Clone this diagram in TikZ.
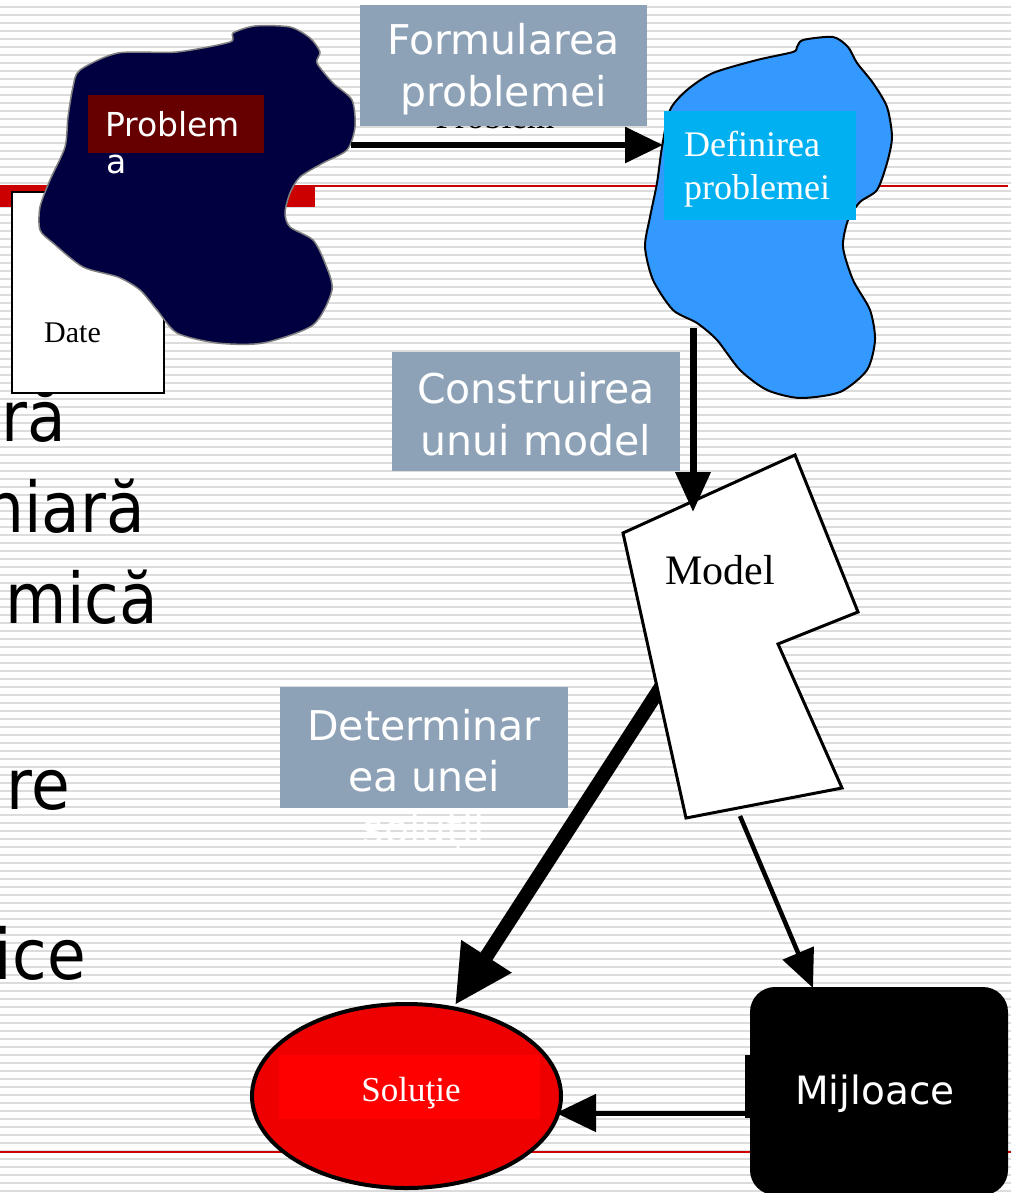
\documentclass[tikz,border=0pt]{standalone}
\usepackage{fontspec}
\setmainfont{Liberation Serif}
\newfontfamily\dvsans{DejaVu Sans}
\newfontfamily\dvnarrow{DejaVu Sans}[FakeStretch=0.9]
\usetikzlibrary{arrows.meta,shapes.geometric}

\definecolor{stripe}{HTML}{DCDCDC}
\definecolor{slidered}{HTML}{CC0000}
\definecolor{navy}{HTML}{000040}
\definecolor{wine}{HTML}{660000}
\definecolor{skyblue}{HTML}{3399FF}
\definecolor{cyanbox}{HTML}{00B0F0}
\definecolor{slate}{HTML}{8EA2B7}
\definecolor{solred}{HTML}{EE0000}
\definecolor{brightred}{HTML}{FF0000}

\tikzset{
  slidetext/.style={font=\dvnarrow\fontsize{70}{84}\selectfont, inner sep=0pt, anchor=base east},
  steptext/.style={font=\dvsans\fontsize{41}{50}\selectfont, text=white, inner sep=0pt, anchor=base},
  stepbox/.style={fill=slate},
  serifsmall/.style={inner sep=0pt, anchor=base west},
  arrowA/.style={line width=6pt, -{Triangle[length=38pt,width=35pt]}},
  arrowB/.style={line width=7pt, -{Triangle[length=40pt,width=34pt]}},
  arrowC/.style={line width=14pt, -{Triangle[length=58pt,width=56pt]}},
  arrowD/.style={line width=4.5pt, -{Triangle[length=38pt,width=33pt]}},
  arrowE/.style={line width=5pt, -{Triangle[length=40pt,width=37pt]}},
}

\begin{document}
\begin{tikzpicture}[x=1pt,y=-1pt]
\useasboundingbox (0,0) rectangle (1011,1193);
\clip (0,0) rectangle (1011,1193);

% striped slide background
\fill[white] (0,0) rectangle (1011,1193);
\foreach \k in {0,...,149}
  \draw[stripe, line width=2pt] (0,{8*\k+7.3}) -- (1011,{8*\k+7.3});

% red rules of the slide
\fill[slidered] (0,185) rectangle (315,207);
\draw[slidered, line width=2pt] (315,186) -- (1008,186);
\draw[slidered, line width=2pt] (0,1152) -- (1011,1152);

% ends of the slide's bullet text
\node[slidetext] (w1) at (66,441) {ră};
\node[slidetext] (w2) at (145,532) {niară};
\node[slidetext] (w3) at (158,623) {mică};
\node[slidetext] (w4) at (70,809) {re};
\node[slidetext] (w5) at (86,979) {ice};

% data box
\node[draw, line width=2pt, fill=white, minimum width=152pt, minimum height=201pt, inner sep=0pt] (datebox) at (88,292.5) {};
\node[serifsmall, font=\fontsize{30}{36}\selectfont] (datetxt) at (44,342) {Date};

% problem blob
\filldraw[fill=navy, draw=gray, line width=1.5pt] plot[smooth cycle, tension=0.45] coordinates {
  (255,26) (233,33) (230,42) (177,52) (118,53) (80,70) (73,87) (68,117) (65,147)
  (50,180) (40,207) (40,230) (53,243) (83,267) (118,277) (140,290) (157,310)
  (177,333) (217,343) (263,343) (313,325) (332,290) (325,263) (313,240)
  (290,227) (285,213) (290,193) (300,177) (323,163) (347,150) (355,127)
  (352,100) (333,83) (317,63) (320,52) (310,38) (290,27)};
\fill[wine] (88,95) rectangle (264,153);
\node[font=\dvsans\fontsize{33}{38}\selectfont, text=white, inner sep=0pt, anchor=base west] (probl1) at (105,137) {Problem};
\node[font=\dvsans\fontsize{33}{38}\selectfont, text=white, inner sep=0pt, anchor=base west] (probl2) at (106,174) {a};

% definition blob
\filldraw[fill=skyblue, draw=black, line width=2pt] plot[smooth cycle, tension=0.45] coordinates {
  (803,40) (833,37) (848,47) (857,63) (873,83) (887,107) (892,137) (887,163)
  (877,190) (860,202) (848,220) (843,247) (853,280) (870,310) (875,340)
  (867,370) (840,392) (800,398) (767,390) (740,370) (717,340) (697,323)
  (673,310) (653,280) (645,247) (650,217) (657,183) (662,147) (670,110)
  (687,90) (713,73) (757,60) (793,52) (797,47)};
\fill[cyanbox] (664,111) rectangle (856,220);
\node[serifsmall, text=white, font=\fontsize{36}{42}\selectfont] (def1) at (684,157) {Definirea};
\node[serifsmall, text=white, font=\fontsize{36}{42}\selectfont] (def2) at (684,200) {problemei};

% step captions
\node[inner sep=0pt, anchor=base, font=\fontsize{35}{42}\selectfont] (under) at (495,128.5) {Problem};
\fill[stepbox] (360,5) rectangle (647,126);
\node[steptext] (form1) at (503.5,55) {Formularea};
\node[steptext] (form2) at (503.5,107) {problemei};

\fill[stepbox] (392,352) rectangle (680,471);
\node[steptext] (cons1) at (536,403) {Construirea};
\node[steptext] (cons2) at (536,455) {unui model};

\fill[stepbox] (280,687) rectangle (568,808);
\node[steptext] (det1) at (424,740) {Determinar};
\node[steptext] (det2) at (424,791) {ea unei};
\node[steptext] (det3) at (424,843) {soluţii};

% solution
\node[ellipse, draw, line width=4pt, fill=solred, minimum width=309pt, minimum height=184pt, inner sep=0pt] (sol) at (406.5,1096) {};
\fill[brightred] (279,1055) rectangle (540,1119);
\node[inner sep=0pt, anchor=base, text=white, font=\fontsize{35}{42}\selectfont] (soltxt) at (411,1101) {Soluţie};

% means
\node[fill=black, rounded corners=25pt, minimum width=258pt, minimum height=208pt, inner sep=0pt] (mij) at (879,1091) {};
\fill[black] (745,1055) rectangle (1000,1118);
\node[inner sep=0pt, anchor=base, text=white, font=\dvsans\fontsize{39}{46}\selectfont] (mijtxt) at (875,1104) {Mijloace};

% connector end points
\coordinate (c1s) at (351,145);
\coordinate (c1e) at (663,145);
\coordinate (c2s) at (693,328);
\coordinate (c2e) at (693,512);
\coordinate (c3s) at (668,676);
\coordinate (c3e) at (455,1005);
\coordinate (c4s) at (740,816);
\coordinate (c4e) at (813,988);
\coordinate (c5s) at (752,1113);
\coordinate (c5e) at (556,1113);

% thick solving arrow, tucked under the model
\draw[arrowC] (c3s) -- (c3e);

% model
\filldraw[fill=white, draw=black, line width=3pt, line join=miter]
  (623,533) -- (795,455) -- (858,612) -- (778,644) -- (842,788) -- (686,818) -- cycle;
\node[serifsmall, font=\fontsize{42}{50}\selectfont] (modeltxt) at (665,584) {Model};

% remaining connectors
\draw[arrowA] (c1s) -- (c1e);
\draw[arrowB] (c2s) -- (c2e);
\draw[arrowD] (c4s) -- (c4e);
\draw[arrowE] (c5s) -- (c5e);
\end{tikzpicture}
\end{document}
